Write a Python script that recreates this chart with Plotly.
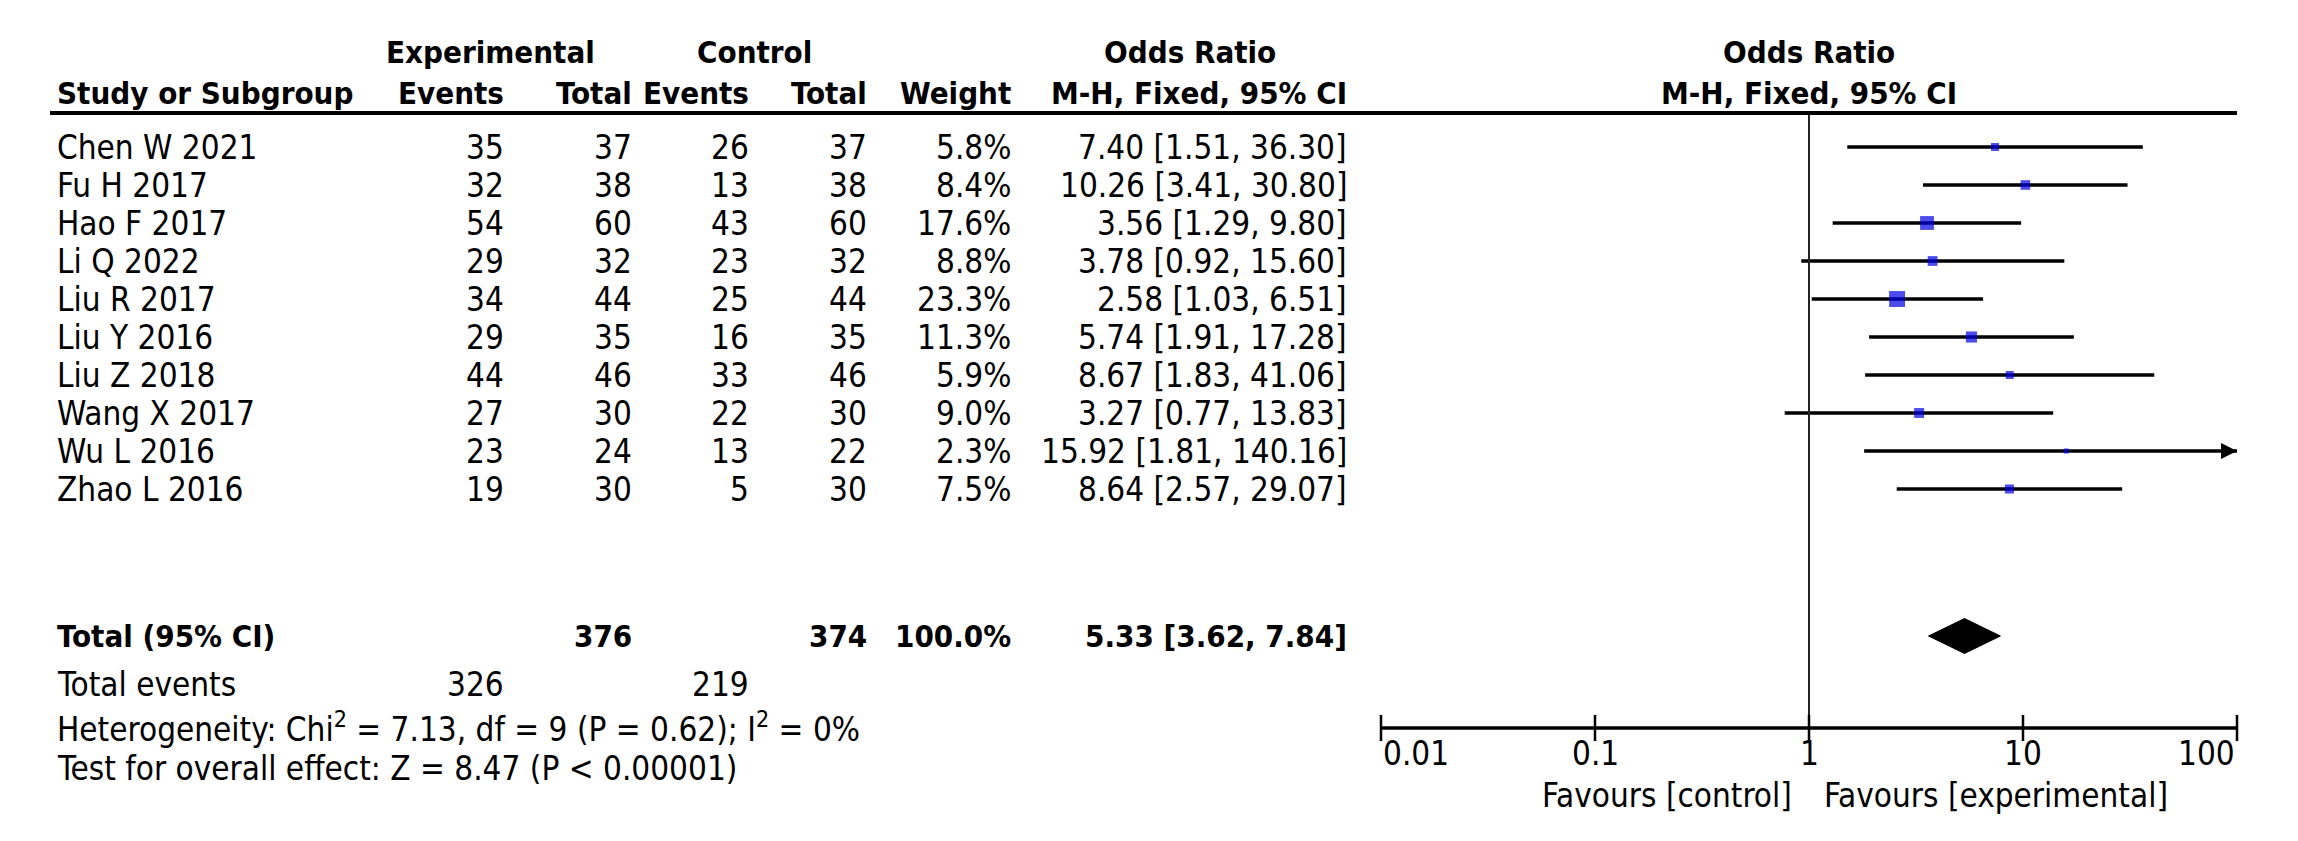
import math
import plotly.graph_objects as go

# ---------------- data ----------------
studies = ["Chen W 2021", "Fu H 2017", "Hao F 2017", "Li Q 2022", "Liu R 2017",
           "Liu Y 2016", "Liu Z 2018", "Wang X 2017", "Wu L 2016", "Zhao L 2016"]
exp_events = [35, 32, 54, 29, 34, 29, 44, 27, 23, 19]
exp_total = [37, 38, 60, 32, 44, 35, 46, 30, 24, 30]
ctrl_events = [26, 13, 43, 23, 25, 16, 33, 22, 13, 5]
ctrl_total = [37, 38, 60, 32, 44, 35, 46, 30, 22, 30]
weights = [5.8, 8.4, 17.6, 8.8, 23.3, 11.3, 5.9, 9.0, 2.3, 7.5]
odds_ratio = [7.40, 10.26, 3.56, 3.78, 2.58, 5.74, 8.67, 3.27, 15.92, 8.64]
ci_low = [1.51, 3.41, 1.29, 0.92, 1.03, 1.91, 1.83, 0.77, 1.81, 2.57]
ci_high = [36.30, 30.80, 9.80, 15.60, 6.51, 17.28, 41.06, 13.83, 140.16, 29.07]

total_exp_n = 376
total_ctrl_n = 374
total_weight = 100.0
total_or = 5.33
total_low = 3.62
total_high = 7.84
total_exp_events = 326
total_ctrl_events = 219
heterogeneity_text = "Heterogeneity: Chi<sup>2</sup> = 7.13, df = 9 (P = 0.62); I<sup>2</sup> = 0%"
overall_text = "Test for overall effect: Z = 8.47 (P < 0.00001)"

tick_vals = [0.01, 0.1, 1, 10, 100]
tick_labels = ["0.01", "0.1", "1", "10", "100"]
axis_min, axis_max = 0.01, 100

# ---------------- layout constants ----------------
W, H = 2298, 841
ROW0_PX, ROW_H = 139, 38
def ypx(p):
    return (p - ROW0_PX) / ROW_H

FONT = "DejaVu Sans Condensed, DejaVu Sans, sans-serif"
FS = 33
FSB = 31
BLACK = "#000000"
BLUE = "#0000E6"

y_rows = list(range(len(studies)))
y_total = ypx(628)
y_events = ypx(676)
y_het = ypx(719)
y_test = ypx(760)
y_head1 = ypx(44)
y_head2 = ypx(85)
y_hline = ypx(105)
y_axis = ypx(720)
y_ticklab = ypx(745)
y_fav = ypx(787)
tick_half = 13 / ROW_H

# forest axis pixel span
PX_MIN, PX_MAX = 1373, 2229
PAD = 20

# table column right edges (pixels on helper axis x2)
X_LEFT = 47
X_EE, X_ET, X_CE, X_CT, X_W, X_OR = 498, 626, 743, 861, 1005, 1341

fig = go.Figure()

# CI lines
for i in range(len(studies)):
    hi = min(ci_high[i], axis_max)
    lo = max(ci_low[i], axis_min)
    fig.add_trace(go.Scatter(x=[lo, hi], y=[y_rows[i], y_rows[i]], mode="lines",
                             line=dict(color=BLACK, width=3.5), hoverinfo="skip",
                             showlegend=False))
    if ci_high[i] > axis_max:
        fig.add_trace(go.Scatter(x=[axis_max], y=[y_rows[i]], mode="markers",
                                 marker=dict(symbol="arrow-right", size=16, color=BLACK,
                                             line=dict(width=0)),
                                 cliponaxis=False, hoverinfo="skip", showlegend=False))

# squares
fig.add_trace(go.Scatter(x=odds_ratio, y=y_rows, mode="markers",
                         marker=dict(symbol="square", color=BLUE,
                                     size=[3.3 * w ** 0.5 for w in weights],
                                     line=dict(width=0)),
                         cliponaxis=False, hoverinfo="skip", showlegend=False))

# diamond
dh = 0.46
fig.add_trace(go.Scatter(x=[total_low, total_or, total_high, total_or, total_low],
                         y=[y_total, y_total - dh, y_total, y_total + dh, y_total],
                         mode="lines", fill="toself", fillcolor=BLACK,
                         line=dict(color=BLACK, width=1), hoverinfo="skip",
                         showlegend=False))

# line of no effect
fig.add_trace(go.Scatter(x=[1, 1], y=[y_hline, y_axis], mode="lines",
                         line=dict(color="#222222", width=2), hoverinfo="skip",
                         showlegend=False))

# axis line + ticks
fig.add_trace(go.Scatter(x=[axis_min, axis_max], y=[y_axis, y_axis], mode="lines",
                         line=dict(color=BLACK, width=3.5), hoverinfo="skip",
                         showlegend=False))
tx, ty = [], []
for t in tick_vals:
    tx += [t, t, None]
    ty += [y_axis - tick_half, y_axis + tick_half, None]
fig.add_trace(go.Scatter(x=tx, y=ty, mode="lines", line=dict(color=BLACK, width=2.5),
                         hoverinfo="skip", showlegend=False))

ann = []
def txt(x, y, s, anchor="right", bold=False, xref="x2", xshift=0):
    if xref == "x":
        x = math.log10(x)
    ann.append(dict(x=x, y=y, xref=xref, yref="y", text=("<b>%s</b>" % s) if bold else s,
                    showarrow=False, xanchor=anchor, yanchor="middle", xshift=xshift,
                    font=dict(family=FONT, size=FSB if bold else FS, color=BLACK)))

# headers
txt(482, y_head1, "Experimental", "center", True)
txt(746, y_head1, "Control", "center", True)
txt(1182, y_head1, "Odds Ratio", "center", True)
txt(1, y_head1, "Odds Ratio", "center", True, xref="x")
txt(X_LEFT, y_head2, "Study or Subgroup", "left", True)
txt(X_EE, y_head2, "Events", "right", True)
txt(X_ET, y_head2, "Total", "right", True)
txt(X_CE, y_head2, "Events", "right", True)
txt(X_CT, y_head2, "Total", "right", True)
txt(X_W, y_head2, "Weight", "right", True)
txt(X_OR, y_head2, "M-H, Fixed, 95% CI", "right", True)
txt(1, y_head2, "M-H, Fixed, 95% CI", "center", True, xref="x")

# rows
for i, s in enumerate(studies):
    y = y_rows[i]
    txt(X_LEFT, y, s, "left")
    txt(X_EE, y, str(exp_events[i]))
    txt(X_ET, y, str(exp_total[i]))
    txt(X_CE, y, str(ctrl_events[i]))
    txt(X_CT, y, str(ctrl_total[i]))
    txt(X_W, y, "%.1f%%" % weights[i])
    txt(X_OR, y, "%.2f [%.2f, %.2f]" % (odds_ratio[i], ci_low[i], ci_high[i]))

# totals
txt(X_LEFT, y_total, "Total (95% CI)", "left", True)
txt(X_ET, y_total, str(total_exp_n), "right", True)
txt(X_CT, y_total, str(total_ctrl_n), "right", True)
txt(X_W, y_total, "%.1f%%" % total_weight, "right", True)
txt(X_OR, y_total, "%.2f [%.2f, %.2f]" % (total_or, total_low, total_high), "right", True)
txt(X_LEFT, y_events, "Total events", "left")
txt(X_EE, y_events, str(total_exp_events))
txt(X_CE, y_events, str(total_ctrl_events))
txt(X_LEFT, y_het, heterogeneity_text, "left")
txt(X_LEFT, y_test, overall_text, "left")

# tick labels
for j, (t, lab) in enumerate(zip(tick_vals, tick_labels)):
    a = "left" if j == 0 else ("right" if j == len(tick_vals) - 1 else "center")
    txt(t, y_ticklab, lab, a, xref="x")
txt(1, y_fav, "Favours [control]", "right", xref="x", xshift=-15)
txt(1, y_fav, "Favours [experimental]", "left", xref="x", xshift=13)

# header rule
shapes = [dict(type="line", xref="x2", yref="y", x0=42, x1=PX_MAX, y0=y_hline, y1=y_hline,
               line=dict(color=BLACK, width=4))]

pad = PAD / ((PX_MAX - PX_MIN) / 4)
fig.update_layout(
    width=W, height=H, margin=dict(l=0, r=0, t=0, b=0),
    paper_bgcolor="white", plot_bgcolor="rgba(0,0,0,0)",
    xaxis=dict(type="log", range=[-2 - pad, 2 + pad],
               domain=[(PX_MIN - PAD) / W, (PX_MAX + PAD) / W], visible=False),
    xaxis2=dict(range=[0, W], domain=[0, 1], anchor="y", visible=False),
    yaxis=dict(range=[ypx(H), ypx(0)], domain=[0, 1], visible=False),
    annotations=ann, shapes=shapes, showlegend=False,
)

fig.write_html("out.html")
